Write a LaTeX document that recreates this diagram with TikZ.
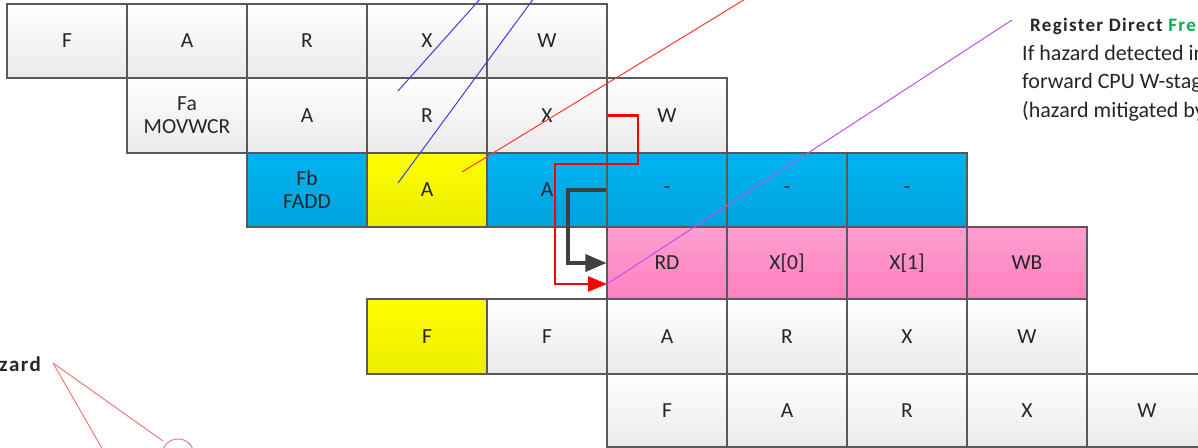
\documentclass[tikz,border=0pt]{standalone}
\usepackage{fontspec}
\setmainfont{Carlito}
\usetikzlibrary{arrows.meta}

\definecolor{cellline}{HTML}{595959}
\definecolor{graytop}{HTML}{FFFFFF}
\definecolor{graybot}{HTML}{EAEAEA}
\definecolor{bluetop}{HTML}{00B4F0}
\definecolor{bluebot}{HTML}{00A2DE}
\definecolor{yeltop}{HTML}{FFFF00}
\definecolor{yelbot}{HTML}{ECEC00}
\definecolor{pinktop}{HTML}{FF9FD0}
\definecolor{pinkbot}{HTML}{FF7FBF}
\definecolor{txt}{HTML}{262626}
\definecolor{freegreen}{HTML}{00B050}
\definecolor{calloutred}{HTML}{F07A7A}
\definecolor{violetln}{HTML}{C050F0}
\definecolor{blueln}{HTML}{3C3CE6}
\definecolor{redln}{HTML}{FF3434}
\definecolor{fwdgray}{HTML}{404040}

\tikzset{
  stage/.style={draw=cellline, line width=1.1pt, minimum width=120pt,
    inner sep=0pt, align=center, text=txt,
    font=\fontsize{21.5}{23}\selectfont, top color=graytop, bottom color=graybot},
  bluestage/.style={stage, top color=bluetop, bottom color=bluebot},
  yelstage/.style={stage, top color=yeltop, bottom color=yelbot},
  pinkstage/.style={stage, top color=pinktop, bottom color=pinkbot},
  rowa/.style={minimum height=74pt},
  rowb/.style={minimum height=75pt},
  rowc/.style={minimum height=74pt},
  rowd/.style={minimum height=72pt},
  rowe/.style={minimum height=75pt},
  rowf/.style={minimum height=73pt},
  blueline/.style={draw=blueln, line width=1pt},
  redline/.style={draw=redln, line width=1pt},
  violetline/.style={draw=violetln, line width=1pt},
  redfwd/.style={draw=red, line width=2.6pt,
    -{Triangle[length=19pt,width=15pt]}},
  grayfwd/.style={draw=fwdgray, line width=3.6pt,
    -{Triangle[length=21pt,width=17pt]}},
  callout/.style={draw=calloutred, line width=1pt},
  note/.style={anchor=base west, inner sep=0pt, text=txt},
  notebody/.style={note, font=\fontsize{22}{24}\selectfont},
}

\begin{document}
\begin{tikzpicture}[x=1pt, y=-1pt]
\useasboundingbox (0,0) rectangle (1198,447);
\clip (0,0) rectangle (1198,447);
\fill[white] (0,0) rectangle (1198,447);

% first instruction
\node[stage, rowa] (a1) at (67,41)  {F};
\node[stage, rowa] (a2) at (187,41) {A};
\node[stage, rowa] (a3) at (307,41) {R};
\node[stage, rowa] (a4) at (427,41) {X};
\node[stage, rowa] (a5) at (547,41) {W};

% MOVWCR
\node[stage, rowb] (b1) at (187,115.5) {Fa\\MOVWCR};
\node[stage, rowb] (b2) at (307,115.5) {A};
\node[stage, rowb] (b3) at (427,115.5) {R};
\node[stage, rowb] (x2) at (547,115.5) {X};
\node[stage, rowb] (b5) at (667,115.5) {W};

% FADD in the CPU pipeline
\node[bluestage, rowc] (c1) at (307,190) {Fb\\FADD};
\node[yelstage,  rowc] (c2) at (427,190) {A};
\node[bluestage, rowc] (c3) at (547,190) {A};
\node[bluestage, rowc] (d1) at (667,190) {-};
\node[bluestage, rowc] (d2) at (787,190) {-};
\node[bluestage, rowc] (d3) at (907,190) {-};

% FADD in the FPU pipeline
\node[pinkstage, rowd] (rd) at (667,263)  {RD};
\node[pinkstage, rowd] (e2) at (787,263)  {X[0]};
\node[pinkstage, rowd] (e3) at (907,263)  {X[1]};
\node[pinkstage, rowd] (e4) at (1027,263) {WB};

% following instructions
\node[yelstage, rowe] (f1) at (427,336.5)  {F};
\node[stage,    rowe] (f2) at (547,336.5)  {F};
\node[stage,    rowe] (f3) at (667,336.5)  {A};
\node[stage,    rowe] (f4) at (787,336.5)  {R};
\node[stage,    rowe] (f5) at (907,336.5)  {X};
\node[stage,    rowe] (f6) at (1027,336.5) {W};

\node[stage, rowf] (g1) at (667,410.5)  {F};
\node[stage, rowf] (g2) at (787,410.5)  {A};
\node[stage, rowf] (g3) at (907,410.5)  {R};
\node[stage, rowf] (g4) at (1027,410.5) {X};
\node[stage, rowf] (g5) at (1147,410.5) {W};

% thin pointer lines
\draw[blueline] (398,91) -- (481,-2);
\draw[blueline] (398,183) -- (534,-2);
\draw[redline] (462,172) -- (747,-2);
\coordinate (redend) at (607,284);
\draw[violetline] (redend) -- (1012,20);

% forwarding paths
\draw[redfwd] (x2.east) -- (638,115.5) -- (638,164) -- (555,164)
  -- (555,284) -- (redend);
\draw[grayfwd] (d1.west) -- (568,190) -- (568,263) -- (rd.west);

% note on the right
\node[note, font=\fontsize{19}{21}\selectfont\bfseries\addfontfeatures{LetterSpace=7}]
  (hd) at (1030,31) {Register Direct \textcolor{freegreen}{Fre}};
\node[notebody] (l1) at (1022,60)  {If hazard detected in};
\node[notebody] (l2) at (1022,88.5){forward CPU W-stag};
\node[notebody] (l3) at (1022,117) {(hazard mitigated by};

% callout on the left
\node[anchor=base east, inner sep=0pt, text=txt,
  font=\fontsize{21}{23}\selectfont\bfseries\addfontfeatures{LetterSpace=7}]
  (hz) at (41,371) {zard};
\coordinate (tip) at (53,363);
\draw[callout] (tip) -- (103,450);
\draw[callout] (tip) -- (163,441);
\draw[callout] (178,455) circle (16);
\end{tikzpicture}
\end{document}
